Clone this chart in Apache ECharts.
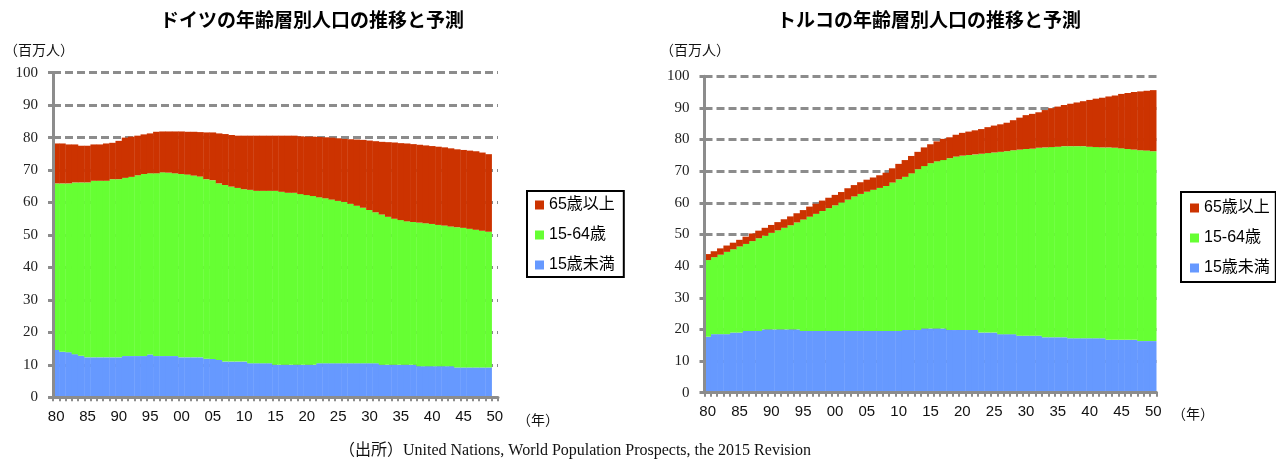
<!DOCTYPE html>
<html>
<head>
<meta charset="utf-8">
<script src="https://cdn.jsdelivr.net/npm/echarts@6/dist/echarts.min.js"></script>
<style>
  html, body { margin: 0; padding: 0; background: #fff; }
  #chart { width: 1276px; height: 459px; }
</style>
</head>
<body>
<div id="chart"></div>
<script>
// Years 1980–2050, shown as two-digit labels
const years = ['80','81','82','83','84','85','86','87','88','89',
  '90','91','92','93','94','95','96','97','98','99',
  '00','01','02','03','04','05','06','07','08','09',
  '10','11','12','13','14','15','16','17','18','19',
  '20','21','22','23','24','25','26','27','28','29',
  '30','31','32','33','34','35','36','37','38','39',
  '40','41','42','43','44','45','46','47','48','49','50'];

const groupNames = ['65歳以上', '15-64歳', '15歳未満'];

// Germany, millions (the 2050 slot has no bar)
const deUnder15 = [14.6,14.0,13.9,13.3,12.8,12.3,12.3,12.3,12.3,12.3,
  12.3,12.7,12.7,12.7,12.7,13.2,12.7,12.7,12.7,12.7,
  12.3,12.3,12.3,12.3,11.9,11.8,11.5,11.0,11.0,11.0,
  11.0,10.5,10.5,10.5,10.5,10.0,10.0,10.0,10.0,
  10.0,10.0,10.0,10.5,10.5,10.5,10.5,10.5,10.5,10.5,
  10.5,10.5,10.5,10.0,10.0,10.0,10.0,10.0,10.0,9.6,
  9.6,9.6,9.6,9.6,9.6,9.2,9.2,9.2,9.2,9.2,9.2,null];
const deWorking = [51.3,51.9,52.0,52.9,53.4,53.9,54.4,54.4,54.4,54.9,
  54.9,54.9,55.2,55.7,56.1,55.8,56.3,56.6,56.5,56.3,
  56.5,56.3,56.0,55.7,55.3,55.1,54.4,54.4,53.9,53.5,
  53.1,53.4,53.1,53.1,53.1,53.6,53.3,53.0,53.0,
  52.6,52.3,52.0,51.1,50.8,50.4,50.0,49.7,49.1,48.5,
  47.9,47.2,46.5,46.3,45.6,45.0,44.6,44.2,44.0,44.2,
  44.0,43.8,43.5,43.3,43.0,43.2,43.0,42.7,42.4,42.1,41.8,null];
const deElderly = [12.3,12.3,12.0,11.7,11.3,11.3,11.2,11.2,11.5,11.2,
  11.8,12.4,12.4,12.2,12.2,12.3,12.8,12.6,12.7,12.9,
  13.1,13.2,13.5,13.7,14.4,14.7,15.4,15.7,15.9,16.1,
  16.5,16.7,17.0,17.0,17.0,17.0,17.3,17.6,17.6,
  17.8,18.0,18.3,18.6,18.8,19.1,19.3,19.4,19.9,20.4,
  20.9,21.4,21.9,22.4,23.0,23.5,23.7,24.0,24.0,24.0,
  24.0,24.0,24.1,24.1,24.1,24.0,24.0,24.1,24.2,24.1,23.9,null];

// Turkey, millions
const trUnder15 = [17.7,18.5,18.5,18.5,19.0,19.0,19.5,19.5,19.5,20.0,
  20.0,20.0,20.0,20.0,20.0,19.5,19.5,19.5,19.5,19.5,
  19.5,19.5,19.5,19.5,19.5,19.5,19.5,19.5,19.5,19.5,
  19.5,19.8,19.8,19.8,20.3,20.3,20.3,20.3,19.8,19.8,
  19.8,19.8,19.8,19.0,19.0,19.0,18.5,18.5,18.5,18.0,
  18.0,18.0,18.0,17.5,17.5,17.5,17.5,17.2,17.2,17.2,
  17.2,17.2,17.2,16.7,16.7,16.7,16.7,16.7,16.3,16.3,16.3];
const trWorking = [24.2,24.3,25.1,26.0,26.3,27.2,27.5,28.4,29.3,29.6,
  30.5,31.3,32.1,32.9,33.8,35.2,36.1,37.0,37.9,38.8,
  39.7,40.6,41.5,42.5,43.3,44.0,44.6,45.2,45.8,46.9,
  47.9,48.4,49.5,50.8,51.3,52.2,52.8,53.2,54.3,54.8,
  55.1,55.3,55.5,56.5,56.7,56.9,57.6,57.8,58.1,58.8,
  59.0,59.1,59.4,60.0,60.1,60.2,60.4,60.7,60.7,60.7,
  60.5,60.4,60.3,60.8,60.7,60.5,60.3,60.1,60.3,60.2,60.0];
const trElderly = [1.9,1.9,2.0,2.0,2.1,2.1,2.3,2.4,2.4,2.5,
  2.5,2.6,2.7,2.8,2.9,3.0,3.2,3.2,3.3,3.3,
  3.3,3.3,3.6,3.6,3.7,3.8,3.9,4.0,4.2,4.5,
  4.9,5.3,5.5,5.5,5.9,6.0,6.3,6.7,6.6,6.9,
  7.2,7.4,7.6,7.8,8.2,8.5,8.7,9.0,9.5,10.1,
  10.7,11.0,11.2,11.8,12.3,12.7,13.0,13.4,13.8,14.2,
  14.8,15.3,15.7,16.1,16.5,17.2,17.7,18.2,18.6,18.9,19.3];

const groupColors = { '65歳以上': '#CC3300', '15-64歳': '#66FF33', '15歳未満': '#6699FF' };

const sansFont = '"Liberation Sans", Arial, "Noto Sans CJK JP", sans-serif';
const serifFont = '"Liberation Serif", "Times New Roman", "Noto Sans CJK JP", serif';
const cjkFont = '"Noto Sans CJK JP", "Liberation Sans", sans-serif';
const axisGray = '#8c8c8c';

function xAxisFor(gridIndex) {
  return {
    type: 'category', gridIndex: gridIndex, data: years, boundaryGap: true, position: 'bottom',
    axisLine: { show: true, lineStyle: { color: axisGray, width: 3 } },
    axisTick: { show: true, interval: 0, length: 4, lineStyle: { color: axisGray, width: 2 } },
    axisLabel: { interval: 4, fontFamily: sansFont, fontSize: 15, color: '#111', margin: 12 },
    z: 5
  };
}
// Dashed grid lines sit behind the bars
function gridLineAxis(gridIndex) {
  return {
    type: 'value', gridIndex: gridIndex, position: 'left', min: 0, max: 100, interval: 10, z: 0,
    axisLine: { show: false }, axisTick: { show: false }, axisLabel: { show: false },
    splitLine: { show: true, lineStyle: { color: axisGray, width: 3, type: [8, 4] } }
  };
}
// Axis line, ticks and labels sit above the bars
function valueAxis(gridIndex) {
  return {
    type: 'value', gridIndex: gridIndex, position: 'left', offset: 0, min: 0, max: 100, interval: 10, z: 5,
    axisLine: { show: true, onZero: false, lineStyle: { color: axisGray, width: 3 } },
    axisTick: { show: true, length: 5, lineStyle: { color: axisGray, width: 3 } },
    axisLabel: { fontFamily: serifFont, fontSize: 15, color: '#222', margin: 15 },
    splitLine: { show: false }
  };
}
function barSeries(name, data, xIdx, yIdx, stack) {
  return {
    name: name, type: 'bar', stack: stack, data: data,
    xAxisIndex: xIdx, yAxisIndex: yIdx,
    barWidth: '106%', barGap: '-100%',
    itemStyle: { color: groupColors[name], borderWidth: 0 },
    emphasis: { disabled: true },
    animation: false
  };
}
function legendAt(left, top, padding) {
  return {
    data: groupNames, orient: 'vertical', left: left, top: top,
    icon: 'rect', itemWidth: 9, itemHeight: 9, itemGap: 12,
    padding: padding, borderColor: '#000', borderWidth: 2,
    textStyle: { fontFamily: sansFont, fontSize: 16, color: '#000', lineHeight: 18 },
    selectedMode: false
  };
}
function label(text, x, y, align, font, size, extra) {
  return { type: 'text', x: x, y: y, z: 10, style: Object.assign({
    text: text, align: align, verticalAlign: 'middle', textAlign: align, textVerticalAlign: 'middle',
    fontFamily: font, fontSize: size, fill: '#111' }, extra || {}) };
}

const chart = echarts.init(document.getElementById('chart'), null, { renderer: 'canvas' });
chart.setOption({
  animation: false,
  grid: [
    { left: 53, top: 72.7, width: 445, height: 324.6 },
    { left: 704.5, top: 76.2, width: 452, height: 316.5 }
  ],
  xAxis: [xAxisFor(0), xAxisFor(1)],
  yAxis: [gridLineAxis(0), valueAxis(0), gridLineAxis(1), valueAxis(1)],
  legend: [
    legendAt(527, 191, [5, 9, 3, 8]),
    legendAt(1181, 192, [7, 6, 5, 9])
  ],
  series: [
    barSeries('15歳未満', deUnder15, 0, 1, 'de'),
    barSeries('15-64歳', deWorking, 0, 1, 'de'),
    barSeries('65歳以上', deElderly, 0, 1, 'de'),
    barSeries('15歳未満', trUnder15, 1, 3, 'tr'),
    barSeries('15-64歳', trWorking, 1, 3, 'tr'),
    barSeries('65歳以上', trElderly, 1, 3, 'tr')
  ],
  graphic: [
    label('ドイツの年齢層別人口の推移と予測', 312, 20, 'center', cjkFont, 19, { fontWeight: 'bold', fill: '#000' }),
    label('トルコの年齢層別人口の推移と予測', 929, 20, 'center', cjkFont, 19, { fontWeight: 'bold', fill: '#000' }),
    label('（百万人）', 4, 50, 'left', cjkFont, 14),
    label('（百万人）', 660, 50, 'left', cjkFont, 14),
    label('（年）', 517, 420, 'left', cjkFont, 14),
    label('（年）', 1172, 414, 'left', cjkFont, 14),
    label('（出所）United Nations, World Population Prospects, the 2015 Revision', 575, 451, 'center', serifFont, 16)
  ]
});
</script>
</body>
</html>
